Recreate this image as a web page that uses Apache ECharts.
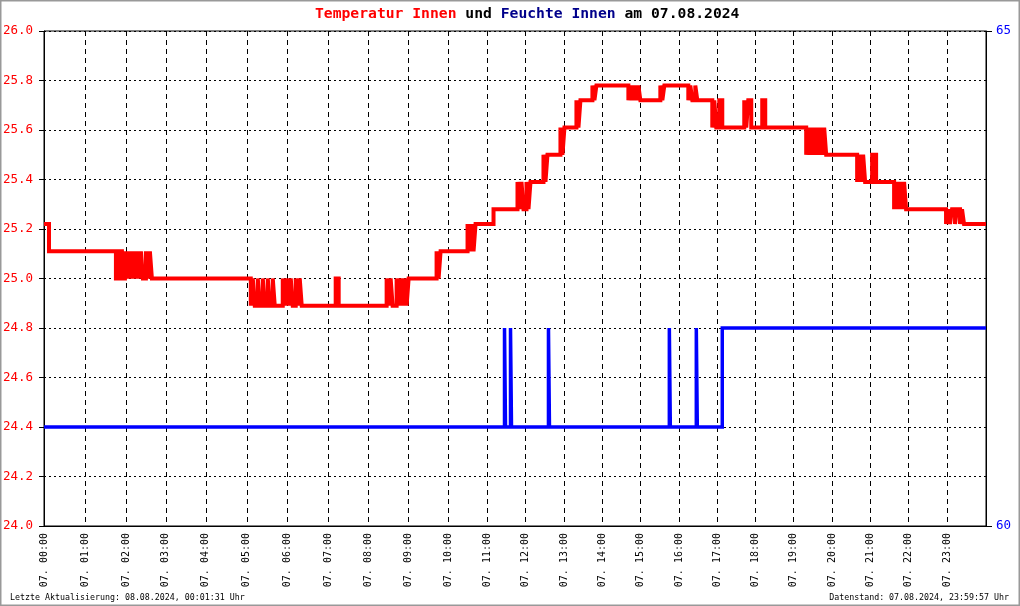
<!DOCTYPE html>
<html>
<head>
<meta charset="utf-8">
<script src="https://cdn.jsdelivr.net/npm/echarts@6/dist/echarts.min.js"></script>
<style>
  html, body { margin: 0; padding: 0; background: #fff; }
  #chart { width: 1020px; height: 606px; }
</style>
</head>
<body>
<div id="chart"></div>
<script>
// x axis is the sample index of the logger (samples are not evenly spread over the hours)
var hourTicks = [0, 41, 82, 122, 162, 203, 244, 285, 325, 365, 405, 444, 482, 521, 559, 597, 636, 674, 712, 750, 789, 827, 865, 904];
var hourLabels = ['07. 00:00', '07. 01:00', '07. 02:00', '07. 03:00', '07. 04:00', '07. 05:00', '07. 06:00', '07. 07:00',
  '07. 08:00', '07. 09:00', '07. 10:00', '07. 11:00', '07. 12:00', '07. 13:00', '07. 14:00', '07. 15:00',
  '07. 16:00', '07. 17:00', '07. 18:00', '07. 19:00', '07. 20:00', '07. 21:00', '07. 22:00', '07. 23:00'];
var lastSample = 943;

// Temperatur Innen (°C), Stufenwerte
var tempIdx = [0, 5,
  72, 75, 78, 81, 83, 85, 87, 89, 91, 93, 95, 97, 99, 102, 104, 106, 108,
  207, 209, 211, 214, 216, 219, 221, 224, 226, 229, 231, 239, 241, 243, 245, 247, 249, 252, 254, 256, 258,
  292, 295,
  343, 345, 347, 349, 353, 355, 357, 359, 361, 363, 365,
  393, 395, 397,
  424, 426, 428, 430, 432,
  450,
  474, 476, 478, 480, 483, 485, 487,
  500, 502, 504,
  517, 519, 521,
  533, 535, 537,
  549, 551, 553,
  585, 587, 589, 591, 593, 595, 597,
  617, 619, 621,
  645, 647, 649, 652, 654,
  669, 671, 673, 676, 679,
  701, 703, 705, 708,
  719, 722,
  763, 765, 767, 769, 771, 773, 775, 777, 779, 781, 783,
  814, 816, 818, 820, 822,
  829, 833,
  851, 853, 855, 857, 859, 861, 863,
  903, 905, 907, 909, 912, 914, 917, 919, 921,
  943];
var tempVal = [25.22, 25.11,
  25.0, 25.11, 25.0, 25.11, 25.0, 25.11, 25.0, 25.11, 25.0, 25.11, 25.0, 25.11, 25.0, 25.11, 25.0, 25.11, 25.0,
  24.89, 25.0, 24.89, 25.0, 24.89, 25.0, 24.89, 25.0, 24.89, 25.0, 24.89, 25.0, 24.89, 25.0, 24.89, 25.0, 24.89, 25.0, 24.89, 25.0, 24.89,
  25.0, 24.89,
  25.0, 24.89, 25.0, 24.89, 25.0, 24.89, 25.0, 24.89, 25.0, 24.89, 25.0,
  25.11, 25.0, 25.11,
  25.22, 25.11, 25.22, 25.11, 25.22,
  25.28,
  25.39, 25.28, 25.39, 25.28, 25.39, 25.28, 25.39,
  25.5, 25.39, 25.5,
  25.61, 25.5, 25.61,
  25.72, 25.61, 25.72,
  25.78, 25.72, 25.78,
  25.72, 25.78, 25.72, 25.78, 25.72, 25.78, 25.72,
  25.78, 25.72, 25.78,
  25.72, 25.78, 25.72, 25.78, 25.72,
  25.61, 25.72, 25.61, 25.72, 25.61,
  25.72, 25.61, 25.72, 25.61,
  25.72, 25.61,
  25.5, 25.61, 25.5, 25.61, 25.5, 25.61, 25.5, 25.61, 25.5, 25.61, 25.5,
  25.39, 25.5, 25.39, 25.5, 25.39,
  25.5, 25.39,
  25.28, 25.39, 25.28, 25.39, 25.28, 25.39, 25.28,
  25.22, 25.28, 25.22, 25.28, 25.22, 25.28, 25.22, 25.28, 25.22,
  25.22];

// Feuchte Innen (%)
var humIdx = [0, 461, 462, 467, 468, 505, 506, 626, 627, 653, 654, 679, 943];
var humVal = [61, 62, 61, 62, 61, 62, 61, 62, 61, 62, 61, 62, 62];

var mono = 'DejaVu Sans Mono';

var tempData = tempIdx.map(function (x, i) { return [x, tempVal[i]]; });
var humData = humIdx.map(function (x, i) { return [x, humVal[i]]; });

var chart = echarts.init(document.getElementById('chart'));
chart.setOption({
  animation: false,
  backgroundColor: '#fff',
  title: {
    text: '{r|Temperatur Innen}{k| und }{b|Feuchte Innen}{k| am 07.08.2024}',
    left: 310,
    top: 2,
    textStyle: {
      rich: {
        r: { color: '#ff0000', fontFamily: mono, fontWeight: 'bold', fontSize: 14.7 },
        k: { color: '#000000', fontFamily: mono, fontWeight: 'bold', fontSize: 14.7 },
        b: { color: '#00008b', fontFamily: mono, fontWeight: 'bold', fontSize: 14.7 }
      }
    }
  },
  grid: {
    left: 44, right: 34, top: 31, bottom: 80,
    show: true, borderColor: '#000', borderWidth: 1,
    outerBoundsMode: 'none'
  },
  xAxis: {
    type: 'value',
    min: 0,
    max: lastSample,
    axisLine: { show: true, lineStyle: { color: '#000', width: 1 } },
    axisTick: { show: false, customValues: hourTicks },
    axisLabel: {
      customValues: hourTicks,
      rotate: 90,
      margin: 7,
      color: '#000',
      fontFamily: mono,
      fontSize: 10,
      formatter: function (v) {
        var i = hourTicks.indexOf(v);
        return i >= 0 ? hourLabels[i] : '';
      }
    },
    splitLine: { show: true, lineStyle: { color: '#000', type: [5, 4], width: 1 } }
  },
  yAxis: [
    {
      type: 'value',
      min: 24,
      max: 26,
      interval: 0.2,
      position: 'left',
      axisLine: { show: true, lineStyle: { color: '#000' } },
      axisTick: { show: true, length: 5, lineStyle: { color: '#000' } },
      axisLabel: {
        margin: 11,
        color: '#ff0000',
        fontFamily: mono,
        fontSize: 12.5,
        showMinLabel: true,
        showMaxLabel: true,
        formatter: function (v) { return v.toFixed(1); }
      },
      splitLine: { show: true, lineStyle: { color: '#000', type: [2, 3], width: 1 } }
    },
    {
      type: 'value',
      min: 60,
      max: 65,
      interval: 5,
      position: 'right',
      axisLine: { show: true, lineStyle: { color: '#000' } },
      axisTick: { show: true, length: 6, lineStyle: { color: '#000' } },
      axisLabel: {
        margin: 10,
        color: '#0000ff',
        fontFamily: mono,
        fontSize: 12.5,
        showMinLabel: true,
        showMaxLabel: true
      },
      splitLine: { show: false }
    }
  ],
  series: [
    {
      name: 'Temperatur Innen',
      type: 'line',
      yAxisIndex: 0,
      step: 'end',
      showSymbol: false,
      symbol: 'none',
      lineStyle: { color: '#ff0000', width: 4, cap: 'butt', join: 'miter', miterLimit: 1.5 },
      data: tempData,
      z: 3
    },
    {
      name: 'Feuchte Innen',
      type: 'line',
      yAxisIndex: 1,
      step: 'end',
      showSymbol: false,
      symbol: 'none',
      lineStyle: { color: '#0000ff', width: 3.5, cap: 'butt', join: 'miter', miterLimit: 1.5 },
      data: humData,
      z: 3
    }
  ],
  graphic: [
    {
      type: 'rect',
      shape: { x: 0.5, y: 0.5, width: 1019, height: 605 },
      style: { fill: null, stroke: '#999', lineWidth: 2 },
      silent: true
    },
    {
      type: 'text',
      left: 10,
      top: 594,
      style: { text: 'Letzte Aktualisierung: 08.08.2024, 00:01:31 Uhr', fill: '#000', font: '8.3px "DejaVu Sans Mono"' }
    },
    {
      type: 'text',
      right: 11,
      top: 594,
      style: { text: 'Datenstand: 07.08.2024, 23:59:57 Uhr', fill: '#000', font: '8.3px "DejaVu Sans Mono"' }
    }
  ]
});
</script>
</body>
</html>
